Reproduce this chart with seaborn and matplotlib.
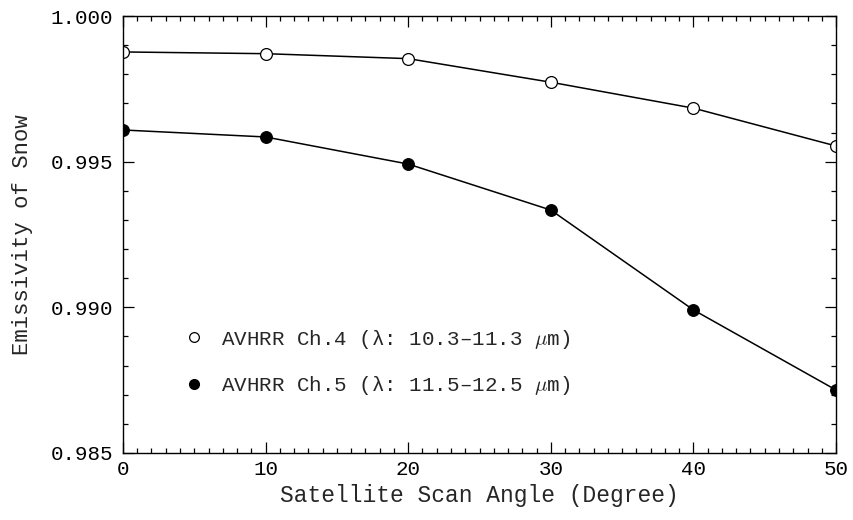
import matplotlib
matplotlib.use("Agg")
import matplotlib.pyplot as plt
from matplotlib.lines import Line2D
from matplotlib.ticker import MultipleLocator, FormatStrFormatter
import seaborn as sns
import pandas as pd

# Scan angles (degrees) and snow emissivities for the two AVHRR channels
scan_angle = [0, 10, 20, 30, 40, 50]
emis_ch4 = [0.99877, 0.99871, 0.99854, 0.99773, 0.99684, 0.99554]
emis_ch5 = [0.99609, 0.99585, 0.99492, 0.99334, 0.98991, 0.98716]

label_ch4 = "AVHRR Ch.4 (λ: 10.3–11.3 $\\mu$m)"
label_ch5 = "AVHRR Ch.5 (λ: 11.5–12.5 $\\mu$m)"

sns.set_theme(style="ticks")
plt.rcParams["font.family"] = ["Liberation Mono", "DejaVu Sans Mono"]
plt.rcParams["mathtext.fontset"] = "cm"

df = pd.DataFrame({"angle": scan_angle, "ch4": emis_ch4, "ch5": emis_ch5})

fig = plt.figure(figsize=(8.54, 5.20), dpi=100)
ax = fig.add_axes([0.144, 0.129, 0.835, 0.840])

sns.lineplot(data=df, x="angle", y="ch4", ax=ax, color="black", lw=1.1,
             marker="o", markersize=8.5, markerfacecolor="white",
             markeredgecolor="black", markeredgewidth=0.9)
sns.lineplot(data=df, x="angle", y="ch5", ax=ax, color="black", lw=1.1,
             marker="o", markersize=8.5, markerfacecolor="black",
             markeredgecolor="black")

ax.set_xlim(0, 50)
ax.set_ylim(0.985, 1.000)
ax.xaxis.set_major_locator(MultipleLocator(10))
ax.xaxis.set_minor_locator(MultipleLocator(1))
ax.yaxis.set_major_locator(MultipleLocator(0.005))
ax.yaxis.set_minor_locator(MultipleLocator(0.001))
ax.yaxis.set_major_formatter(FormatStrFormatter("%.3f"))

ax.tick_params(which="both", direction="in", top=True, right=True,
               colors="black", labelsize=15, width=0.9)
ax.tick_params(which="major", length=8)
ax.tick_params(which="minor", length=3.5)
ax.tick_params(axis="y", which="major", pad=7)
ax.tick_params(axis="x", which="major", pad=5)
for s in ax.spines.values():
    s.set_linewidth(1.0)
    s.set_color("black")

ax.set_xlabel("Satellite Scan Angle (Degree)", fontsize=16.5, labelpad=4)
ax.set_ylabel("Emissivity of Snow", fontsize=16, labelpad=13)

handles = [
    Line2D([], [], ls="none", marker="o", markersize=7, markerfacecolor="white",
           markeredgecolor="black", markeredgewidth=0.9),
    Line2D([], [], ls="none", marker="o", markersize=7, markerfacecolor="black",
           markeredgecolor="black"),
]
ax.legend(handles, [label_ch4, label_ch5], loc="lower left",
          bbox_to_anchor=(0.061, 0.084), frameon=False, fontsize=15,
          handlelength=0.8, handletextpad=0.9, labelspacing=1.15)

fig.savefig("out.png", dpi=100)
